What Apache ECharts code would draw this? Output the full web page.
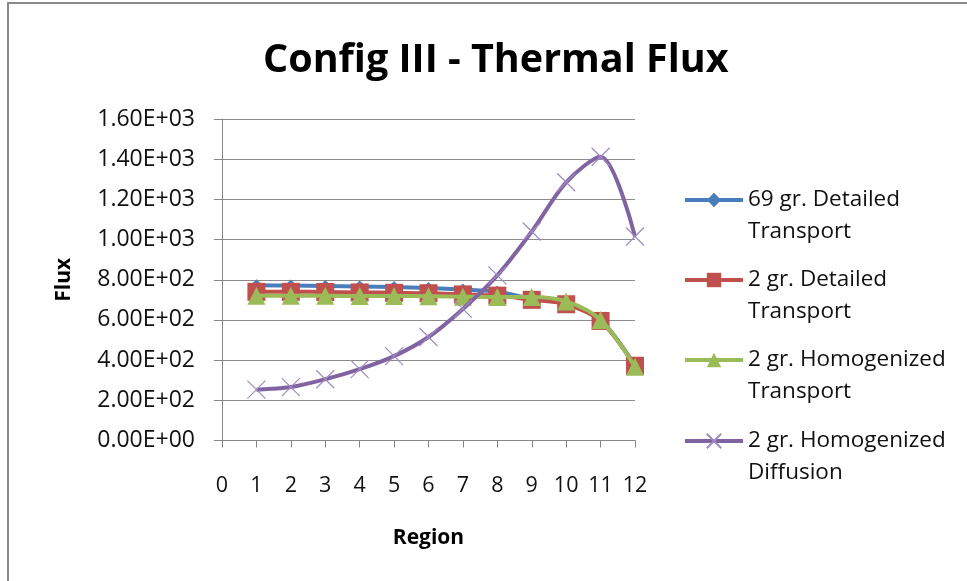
<!DOCTYPE html>
<html>
<head>
<meta charset="utf-8">
<script src="https://cdn.jsdelivr.net/npm/echarts@6/dist/echarts.min.js"></script>
<style>
html,body{margin:0;padding:0;background:#fff;}
#chart{width:967px;height:581px;}
</style>
</head>
<body>
<div id="chart"></div>
<script>
var titleText = 'Config III - Thermal Flux';
var xAxisTitle = 'Region';
var yAxisTitle = 'Flux';
var regions = [1, 2, 3, 4, 5, 6, 7, 8, 9, 10, 11, 12];
var xTickLabels = ['0','1','2','3','4','5','6','7','8','9','10','11','12'];
var yTickLabels = ['0.00E+00','2.00E+02','4.00E+02','6.00E+02','8.00E+02','1.00E+03','1.20E+03','1.40E+03','1.60E+03'];
var seriesNames = ['69 gr. Detailed\nTransport', '2 gr. Detailed\nTransport', '2 gr. Homogenized\nTransport', '2 gr. Homogenized\nDiffusion'];
var detailed69 = [773, 771, 769, 767, 764, 759, 751, 740, 706, 682, 600, 372];
var detailed2 = [740, 740, 739, 737, 735, 733, 727, 721, 700, 678, 595, 372];
var homTransport2 = [720, 720, 720, 719, 719, 718, 716, 714, 714, 692, 600, 367];
var homDiffusion2 = [253, 266, 305, 355, 420, 515, 655, 822, 1040, 1285, 1412, 1015];

function pairs(vals) { return regions.map(function (r, i) { return [r, vals[i]]; }); }

var FONT = 'Open Sans';
var chart = echarts.init(document.getElementById('chart'), null, {renderer: 'canvas'});

var xPath = 'path://M0,0L10,10M10,0L0,10';

function legendFor(name, top) {
  return {
    data: [name],
    orient: 'vertical',
    left: 683,
    top: top,
    padding: 0,
    itemWidth: 58,
    itemHeight: 18,
    itemGap: 0,
    selectedMode: false,
    lineStyle: {width: 4},
    formatter: function (n) { return '\n' + n; },
    textStyle: {fontFamily: FONT, fontSize: 22.5, color: '#111', lineHeight: 32}
  };
}

var option = {
  backgroundColor: '#fff',
  animation: false,
  title: {
    text: titleText,
    left: 258,
    top: 36,
    textStyle: {fontFamily: FONT, fontWeight: 'bold', fontSize: 39.5, color: '#000'}
  },
  graphic: [{
    type: 'rect',
    shape: {x: 8, y: 3, width: 1000, height: 700},
    style: {fill: null, stroke: '#8a8a8a', lineWidth: 2},
    silent: true
  }],
  legend: [
    legendFor(seriesNames[0], 152),
    legendFor(seriesNames[1], 232),
    legendFor(seriesNames[2], 312),
    legendFor(seriesNames[3], 393)
  ],
  grid: {left: 222, top: 119, width: 413, height: 321.5},
  xAxis: {
    type: 'value',
    min: 0, max: 12, interval: 1,
    name: xAxisTitle,
    nameLocation: 'middle',
    nameGap: 87,
    nameTextStyle: {fontFamily: FONT, fontWeight: 'bold', fontSize: 21, color: '#000'},
    axisLine: {show: true, lineStyle: {color: '#868686', width: 1}},
    axisTick: {show: true, inside: false, length: 7, lineStyle: {color: '#868686'}},
    axisLabel: {
      margin: 34, fontFamily: FONT, fontSize: 21.5, color: '#111',
      formatter: function (v) { return xTickLabels[Math.round(v)]; }
    },
    splitLine: {show: false}
  },
  yAxis: {
    type: 'value',
    min: 0, max: 1600, interval: 200,
    name: yAxisTitle,
    nameLocation: 'middle',
    nameGap: 147,
    nameTextStyle: {fontFamily: FONT, fontWeight: 'bold', fontSize: 21, color: '#000'},
    axisLine: {show: true, lineStyle: {color: '#868686', width: 1}},
    axisTick: {show: true, inside: false, length: 8, lineStyle: {color: '#868686'}},
    axisLabel: {
      margin: 27, fontFamily: FONT, fontSize: 23, color: '#111',
      formatter: function (v) { return yTickLabels[Math.round(v / 200)]; }
    },
    splitLine: {show: true, lineStyle: {color: '#8c8c8c', width: 1}}
  },
  series: [
    {
      name: seriesNames[0], type: 'line', smooth: 0.3,
      data: pairs(detailed69),
      symbol: 'diamond', symbolSize: 12,
      itemStyle: {color: '#4A7EBB'},
      lineStyle: {color: '#4A7EBB', width: 4},
      z: 2
    },
    {
      name: seriesNames[1], type: 'line', smooth: 0.3,
      data: pairs(detailed2),
      symbol: 'rect', symbolSize: 18,
      itemStyle: {color: '#C0504D'},
      lineStyle: {color: '#C0504D', width: 4},
      z: 3
    },
    {
      name: seriesNames[2], type: 'line', smooth: 0.3,
      data: pairs(homTransport2),
      symbol: 'triangle', symbolSize: 18,
      itemStyle: {color: '#9BBB59'},
      lineStyle: {color: '#9BBB59', width: 4},
      z: 4
    },
    {
      name: seriesNames[3], type: 'line', smooth: 0.3,
      data: pairs(homDiffusion2),
      symbol: xPath, symbolSize: 18,
      itemStyle: {color: 'rgba(0,0,0,0)', borderColor: '#9F8BC2', borderWidth: 1.2},
      lineStyle: {color: '#8064A2', width: 4},
      z: 5
    }
  ]
};
chart.setOption(option);
</script>
</body>
</html>
